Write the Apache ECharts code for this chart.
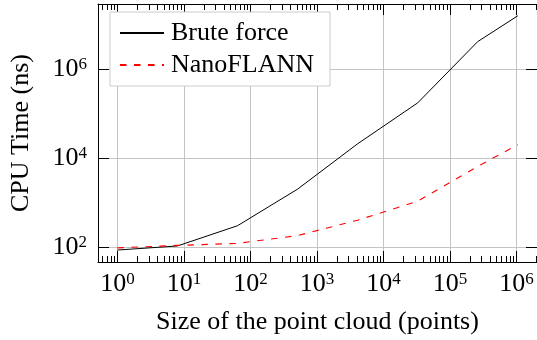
<!DOCTYPE html>
<html>
<head>
<meta charset="utf-8">
<script src="https://cdn.jsdelivr.net/npm/echarts@6/dist/echarts.min.js"></script>
<style>
  html, body { margin: 0; padding: 0; background: #fff; }
  #chart { width: 537px; height: 340px; }
</style>
</head>
<body>
<div id="chart"></div>
<script>
// point cloud sizes (powers of 8)
const sizes = [1, 8, 64, 512, 4096, 32768, 262144, 1048576]
const bruteForce = [85, 105, 300, 2000, 21000, 175000, 4200000, 16000000]
const nanoFlann = [95, 108, 120, 180, 400, 1070, 6500, 20000]

const xMajor = [1, 10, 100, 1000, 10000, 100000, 1000000]
const yMajor = [100, 10000, 1000000]
const minorSteps = [2, 3, 4, 5, 6, 7, 8, 9]

const xMin = 0.51
const xMax = 2.04e6
const yMin = 45.7
const yMax = 2.95e7

const FONT = '"Liberation Serif", "Times New Roman", serif'

// minor ticks between decades
const xMinor = []
;[0.1].concat(xMajor).forEach(d => {
  minorSteps.forEach(m => {
    const v = d * m
    if (v > xMin && v < xMax) xMinor.push(v)
  })
})

const supLabel = v => '{b|10}{s|' + Math.round(Math.log10(v)) + '}'
const labelRich = {
  b: { fontSize: 26, fontFamily: FONT, color: '#000', lineHeight: 26 },
  s: { fontSize: 17, fontFamily: FONT, color: '#000', lineHeight: 17, verticalAlign: 'top' }
}

const baseX = {
  type: 'log', min: xMin, max: xMax, gridIndex: 0
}
const baseY = {
  type: 'log', min: yMin, max: yMax, gridIndex: 0
}
const off = { show: false }
const blackLine = { show: true, lineStyle: { color: '#000', width: 1 } }

const chart = echarts.init(document.getElementById('chart'))

chart.setOption({
  animation: false,
  backgroundColor: '#fff',
  textStyle: { fontFamily: FONT },
  grid: { left: 96, right: 0, top: 4, bottom: 78 },
  legend: {
    orient: 'vertical',
    left: 110,
    top: 12,
    padding: [8, 16, 8, 9],
    itemGap: 6,
    itemWidth: 44,
    itemHeight: 4,
    itemStyle: { opacity: 0 },
    backgroundColor: '#fff',
    borderColor: '#cccccc',
    borderWidth: 1,
    borderRadius: 0,
    textStyle: { fontFamily: FONT, fontSize: 26, color: '#000', lineHeight: 26, padding: [0, 0, 0, 2] },
    data: ['Brute force', 'NanoFLANN']
  },
  xAxis: [
    // grid lines
    Object.assign({}, baseX, {
      z: 0, axisLine: off, axisLabel: off,
      axisTick: { show: false, customValues: xMajor },
      splitLine: { show: true, lineStyle: { color: '#c4c4c4', width: 1 } }
    }),
    // bottom axis, major ticks + labels
    Object.assign({}, baseX, {
      z: 3, position: 'bottom',
      name: 'Size of the point cloud (points)',
      nameLocation: 'middle',
      nameGap: 47,
      nameTextStyle: { fontFamily: FONT, fontSize: 26, color: '#000' },
      axisLine: blackLine,
      axisTick: { show: true, inside: true, length: 11, customValues: xMajor, lineStyle: { color: '#000' } },
      axisLabel: { show: true, margin: 9, customValues: xMajor, formatter: supLabel, rich: labelRich },
      splitLine: off
    }),
    Object.assign({}, baseX, {
      z: 3, position: 'bottom', axisLine: off, axisLabel: off, splitLine: off,
      axisTick: { show: true, inside: true, length: 6, customValues: xMinor, lineStyle: { color: '#000' } }
    }),
    Object.assign({}, baseX, {
      z: 3, position: 'top', axisLine: blackLine, axisLabel: off, splitLine: off,
      axisTick: { show: true, inside: true, length: 11, customValues: xMajor, lineStyle: { color: '#000' } }
    }),
    Object.assign({}, baseX, {
      z: 3, position: 'top', axisLine: off, axisLabel: off, splitLine: off,
      axisTick: { show: true, inside: true, length: 6, customValues: xMinor, lineStyle: { color: '#000' } }
    })
  ],
  yAxis: [
    Object.assign({}, baseY, {
      z: 0, axisLine: off, axisLabel: off,
      axisTick: { show: false, customValues: yMajor },
      splitLine: { show: true, lineStyle: { color: '#c4c4c4', width: 1 } }
    }),
    Object.assign({}, baseY, {
      z: 3, position: 'left',
      name: 'CPU Time (ns)',
      nameLocation: 'middle',
      nameRotate: 90,
      nameGap: 64,
      nameTextStyle: { fontFamily: FONT, fontSize: 26, color: '#000' },
      axisLine: blackLine,
      axisTick: { show: true, inside: true, length: 11, customValues: yMajor, lineStyle: { color: '#000' } },
      axisLabel: { show: true, margin: 11, customValues: yMajor, formatter: supLabel, rich: labelRich },
      splitLine: off
    }),
    Object.assign({}, baseY, {
      z: 3, position: 'right', axisLine: blackLine, axisLabel: off, splitLine: off,
      axisTick: { show: true, inside: true, length: 11, customValues: yMajor, lineStyle: { color: '#000' } }
    })
  ],
  series: [
    {
      name: 'Brute force',
      type: 'line',
      xAxisIndex: 1,
      yAxisIndex: 1,
      symbol: 'none',
      color: '#000',
      lineStyle: { color: '#000', width: 1 },
      data: sizes.map((s, i) => [s, bruteForce[i]])
    },
    {
      name: 'NanoFLANN',
      type: 'line',
      xAxisIndex: 1,
      yAxisIndex: 1,
      symbol: 'none',
      color: '#ff0000',
      lineStyle: { color: '#ff0000', width: 1.1, type: [6.5, 7.5] },
      data: sizes.map((s, i) => [s, nanoFlann[i]])
    }
  ]
})
</script>
</body>
</html>
